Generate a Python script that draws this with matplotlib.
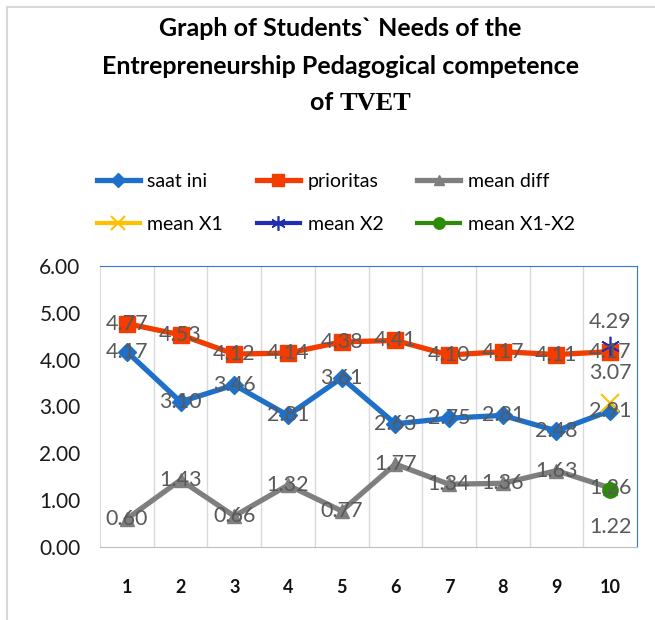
import matplotlib.pyplot as plt
from matplotlib.lines import Line2D

plt.rcParams['font.family'] = ['Lato', 'DejaVu Sans']

# data
items = [1, 2, 3, 4, 5, 6, 7, 8, 9, 10]
saat_ini = [4.17, 3.10, 3.46, 2.81, 3.61, 2.63, 2.75, 2.81, 2.48, 2.91]
prioritas = [4.77, 4.53, 4.12, 4.14, 4.38, 4.41, 4.10, 4.17, 4.11, 4.17]
mean_diff = [0.60, 1.43, 0.66, 1.32, 0.77, 1.77, 1.34, 1.36, 1.63, 1.26]
mean_x1 = 3.07
mean_x2 = 4.29
mean_x1_x2 = 1.22

label_col = "#595959"

fig = plt.figure(figsize=(6.55, 6.2), dpi=100)
ax = fig.add_axes([100 / 655, 73 / 620, 537 / 655, 281 / 620])

l1, = ax.plot(items, saat_ini, color="#1F70C8", lw=3.8, marker="D", ms=9, label="saat ini")
l2, = ax.plot(items, prioritas, color="#F23C00", lw=3.8, marker="s", ms=12, label="prioritas")
l3, = ax.plot(items, mean_diff, color="#7F7F7F", lw=3.8, marker="^", ms=10, label="mean diff")
l4, = ax.plot([10], [mean_x1], color="#FFC000", lw=3, marker="x", ms=13, mew=1.5, label="mean X1")
l5, = ax.plot([10], [mean_x2], color="#1F2FB0", lw=3, marker=(6, 2, 0), ms=14, mew=1.2, label="mean X2")
l6, = ax.plot([10], [mean_x1_x2], color="#2E8B0A", lw=3, marker="o", ms=11, label="mean X1-X2")

for series in (saat_ini, prioritas, mean_diff):
    for x, v in zip(items, series):
        ax.annotate(f"{v:.2f}", (x, v), ha="center", va="center", fontsize=15.5,
                    color=label_col, zorder=5)

ax.annotate(f"{mean_x2:.2f}", (10, mean_x2), xytext=(0, 24), textcoords="offset pixels",
            ha="center", va="center", fontsize=15.5, color=label_col)
ax.annotate(f"{mean_x1:.2f}", (10, mean_x1), xytext=(0, 30), textcoords="offset pixels",
            ha="center", va="center", fontsize=15.5, color=label_col)
ax.annotate(f"{mean_x1_x2:.2f}", (10, mean_x1_x2), xytext=(0, -37), textcoords="offset pixels",
            ha="center", va="center", fontsize=15.5, color=label_col)

ax.set_xlim(0.5, 10.5)
ax.set_ylim(0, 6)
ax.set_yticks([0, 1, 2, 3, 4, 5, 6])
ax.set_yticklabels([f"{t:.2f}" for t in range(7)], fontsize=15, color="#1a1a1a")
ax.set_xticks(items)
ax.set_xticklabels([str(i) for i in items], fontsize=13, fontweight="bold", color="#111111")
ax.tick_params(length=0)
ax.tick_params(axis="y", pad=14)
ax.tick_params(axis="x", pad=23)
for xb in [1.5, 2.5, 3.5, 4.5, 5.5, 6.5, 7.5, 8.5, 9.5]:
    ax.axvline(xb, color="#D9D9D9", lw=1, zorder=0)
ax.spines["left"].set_color("#D9D9D9")
ax.spines["bottom"].set_color("#BFBFBF")
ax.spines["top"].set_color("#2E7BD6")
ax.spines["right"].set_color("#2E7BD6")

# legend, row order like the original
handles = [l1, l4, l2, l5, l3, l6]
fig.legend(handles=handles, labels=[h.get_label() for h in handles], ncol=3,
           loc="upper left", bbox_to_anchor=(87 / 655, 1 - 163 / 620), frameon=False,
           borderpad=0, fontsize=14, handlelength=2.2, handletextpad=0.4,
           columnspacing=1.75, labelspacing=1.35, markerscale=0.75)

# title
tx = 340 / 655
fig.text(tx, 1 - 28 / 620, "Graph of Students` Needs of the", ha="center", va="center",
         fontsize=18, fontweight="bold")
fig.text(tx, 1 - 66 / 620, "Entrepreneurship Pedagogical competence", ha="center", va="center",
         fontsize=18, fontweight="bold")
fig.text(tx, 1 - 103 / 620, "of ", ha="right", va="center", fontsize=18, fontweight="bold")
fig.text(tx, 1 - 103 / 620, "TVET", ha="left", va="center", fontsize=19, fontweight="bold",
         family="Liberation Serif")

# outer frame lines
fig.add_artist(Line2D([7 / 655, 7 / 655], [0, 1 - 7 / 620], color="#D9D9D9", lw=1.5))
fig.add_artist(Line2D([7 / 655, 1], [1 - 7 / 620, 1 - 7 / 620], color="#D9D9D9", lw=1.5))

fig.savefig("out.png", dpi=100)
